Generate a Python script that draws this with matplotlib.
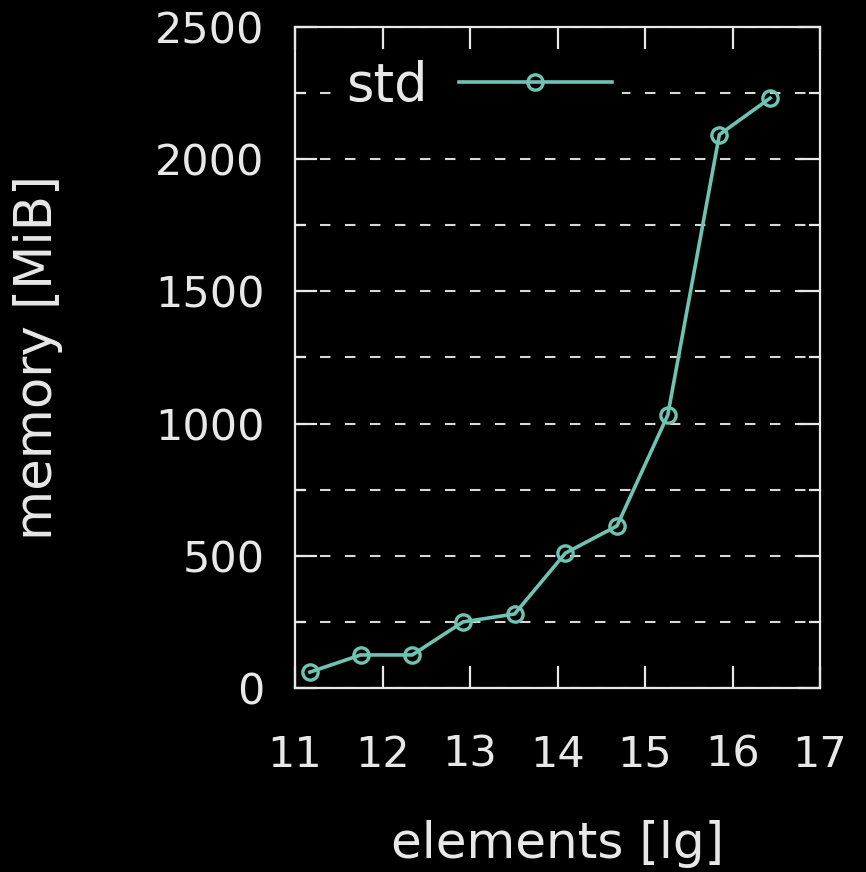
import matplotlib
matplotlib.use("Agg")
import matplotlib.pyplot as plt
from matplotlib.ticker import MultipleLocator

# Data
elements_lg = [11.17, 11.75, 12.34, 12.92, 13.51, 14.09, 14.68, 15.26, 15.85, 16.43]
memory_mib = [60, 125, 125, 250, 280, 510, 613, 1032, 2093, 2231]
series_name = "std"
x_ticks = [11, 12, 13, 14, 15, 16, 17]
y_ticks = [0, 500, 1000, 1500, 2000, 2500]

fg = "#e8e8e8"
line_c = "#6fc3b3"

plt.rcParams['font.family'] = ['DejaVu Sans']
fig = plt.figure(figsize=(8.66, 8.72), dpi=100, facecolor="black")
ax = fig.add_axes([295/866, 1-688/872, (820-295)/866, (688-27)/872], facecolor="black")

ax.plot(elements_lg, memory_mib, color=line_c, lw=2.6, marker='o', ms=11,
        mfc='none', mec=line_c, mew=2.4, label=series_name, zorder=3)

ax.set_xlim(11, 17)
ax.set_ylim(0, 2500)
ax.set_xticks(x_ticks)
ax.set_yticks(y_ticks)
ax.yaxis.set_minor_locator(MultipleLocator(250))

for s in ax.spines.values():
    s.set_color(fg)
    s.set_linewidth(1.6)

ax.tick_params(axis='both', which='major', direction='in', colors=fg,
               labelsize=31, length=16, width=1.6)
ax.tick_params(axis='y', which='minor', direction='in', colors=fg, length=8, width=1.6,
               left=True, right=True)
ax.tick_params(axis='y', which='major', left=True, right=True, pad=22)
ax.tick_params(axis='x', which='major', top=True, bottom=True, pad=33)

ax.grid(True, axis='y', which='both', color='#d8d8d8', lw=1.5,
        linestyle=(0, (5, 7)), zorder=1)
ax.set_axisbelow(True)

ax.set_xlabel("elements [lg]", fontsize=36, color=fg, labelpad=32)
ax.set_ylabel("memory [MiB]", fontsize=37, color=fg, labelpad=66)

leg = ax.legend(loc='upper left', bbox_to_anchor=(336/866, 1-49/872),
                bbox_transform=fig.transFigure, markerfirst=False, fontsize=38,
                handlelength=2.9, handletextpad=0.58, frameon=True,
                facecolor='black', edgecolor='none', framealpha=1,
                borderpad=0.2, borderaxespad=0)
for t in leg.get_texts():
    t.set_color(fg)
leg.set_zorder(5)

fig.savefig("out.png", dpi=100, facecolor="black")
